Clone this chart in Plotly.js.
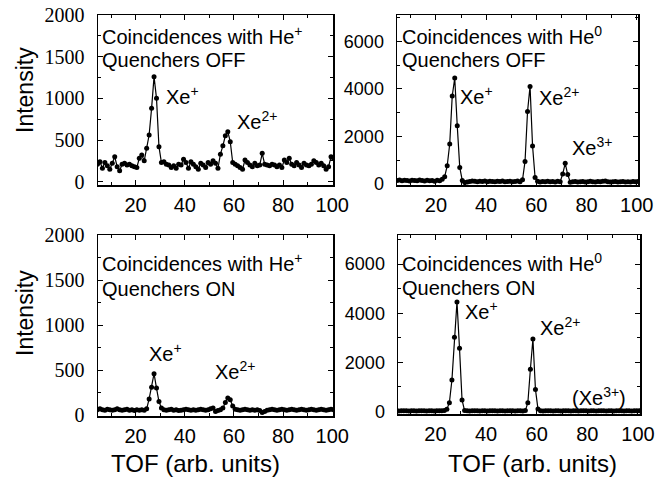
<!DOCTYPE html>
<html>
<head>
<meta charset="utf-8">
<script src="https://cdn.plot.ly/plotly-3.0.1.min.js"></script>
<style>
html,body{margin:0;padding:0;background:#fff;}
#chart{width:670px;height:487px;}
</style>
</head>
<body>
<div id="chart"></div>
<script>
// TOF channel positions (arb. units)
const tof = [4.5,5.5,6.5,7.5,8.5,9.5,10.5,11.5,12.5,13.5,14.5,15.5,16.5,17.5,18.5,19.5,20.5,21.5,22.5,23.5,
  24.5,25.5,26.5,27.5,28.5,29.5,30.5,31.5,32.5,33.5,34.5,35.5,36.5,37.5,38.5,39.5,40.5,41.5,42.5,43.5,
  44.5,45.5,46.5,47.5,48.5,49.5,50.5,51.5,52.5,53.5,54.5,55.5,56.5,57.5,58.5,59.5,60.5,61.5,62.5,63.5,
  64.5,65.5,66.5,67.5,68.5,69.5,70.5,71.5,72.5,73.5,74.5,75.5,76.5,77.5,78.5,79.5,80.5,81.5,82.5,83.5,
  84.5,85.5,86.5,87.5,88.5,89.5,90.5,91.5,92.5,93.5,94.5,95.5,96.5,97.5,98.5,99.5,100.5];

// Coincidences with He+, quenchers OFF
const heIonOff = [210,240,160,230,190,150,220,300,180,130,210,220,200,210,190,180,170,280,320,250,
  400,560,880,1260,1000,420,230,240,210,200,170,190,160,210,200,270,230,160,240,210,
  180,150,220,200,170,230,210,250,220,160,330,430,550,600,480,230,210,190,170,150,
  260,230,200,180,220,190,200,340,210,200,190,210,200,180,200,170,260,230,280,210,
  190,230,200,170,220,200,190,210,250,230,200,220,190,150,180,300,280];

// Coincidences with He0, quenchers OFF
const heNeuOff = [150,170,140,160,150,130,160,150,140,170,150,130,160,140,150,120,160,140,200,310,
  770,1680,3700,4450,2450,700,150,60,90,110,130,120,100,120,110,130,100,120,110,100,
  120,110,130,100,110,120,100,110,130,100,180,950,3050,4100,1600,280,120,90,110,100,
  120,100,110,90,120,100,420,870,400,80,100,110,90,100,110,90,100,120,100,90,
  110,100,120,130,100,90,100,110,90,100,110,90,100,90,110,100,110];

// Coincidences with He+, quenchers ON
const heIonOn = [60,70,60,55,65,60,55,60,70,60,55,60,65,55,60,50,60,55,60,55,
  70,180,310,460,300,150,80,60,55,60,65,55,60,50,55,60,65,60,55,60,
  55,60,65,60,55,60,70,80,40,50,60,80,140,190,170,100,65,60,55,60,
  65,60,55,60,55,60,50,30,40,55,60,65,60,55,60,65,60,55,60,65,
  60,55,60,65,60,55,60,65,60,55,60,65,60,55,60,65,60];

// Coincidences with He0, quenchers ON
const heNeuOn = [30,25,30,35,30,25,30,30,25,30,35,30,25,30,30,25,30,35,30,40,
  90,360,1280,3020,4460,2570,470,40,30,25,30,35,30,25,30,30,25,30,35,30,
  25,30,30,25,30,35,30,25,30,30,25,40,360,1720,2950,900,100,30,25,30,
  35,30,25,30,30,25,30,35,30,25,30,30,25,30,35,30,25,30,30,25,
  30,35,30,25,30,30,25,30,35,30,25,30,30,25,30,35,30];

const xTicks = [20,40,60,80,100];
const yTicksLeft = [0,500,1000,1500,2000];
const yTicksRight = [0,2000,4000,6000];

const W = 670, H = 487;
const px = v => v / W;
const py = v => 1 - v / H;

function tr(y, xa, ya) {
  return {x: tof, y: y, xaxis: xa, yaxis: ya, type: 'scatter', mode: 'lines+markers',
    line: {color: '#000', width: 1.2}, marker: {color: '#000', size: 5}, cliponaxis: true,
    hoverinfo: 'skip'};
}

const data = [
  tr(heIonOff, 'x', 'y'),
  tr(heNeuOff, 'x2', 'y2'),
  tr(heIonOn, 'x3', 'y3'),
  tr(heNeuOn, 'x4', 'y4')
];

const sans = 'Liberation Sans';
const serif = 'Liberation Serif';

function xax(d, range, anchor) {
  return {domain: d, range: range, anchor: anchor, showline: true, mirror: 'allticks',
    linecolor: '#000', linewidth: 1.5, ticks: 'inside', ticklen: 5, tickcolor: '#000', tickwidth: 1,
    tickvals: xTicks, ticktext: xTicks.map(String), showgrid: false, zeroline: false,
    minor: {dtick: 10, tick0: 0, ticks: 'inside', ticklen: 3, tickcolor: '#000', showgrid: false},
    tickfont: {family: sans, size: 20, color: '#000'}, ticklabelstandoff: 1, fixedrange: true};
}
function yax(d, range, anchor, vals, font, size, minorStep) {
  return {domain: d, range: range, anchor: anchor, showline: true, mirror: 'allticks',
    linecolor: '#000', linewidth: 1.5, ticks: 'inside', ticklen: 5, tickcolor: '#000', tickwidth: 1,
    tickvals: vals, ticktext: vals.map(String), showgrid: false, zeroline: false,
    minor: {dtick: minorStep, tick0: 0, ticks: 'inside', ticklen: 3, tickcolor: '#000', showgrid: false},
    tickfont: {family: font, size: size, color: '#000'}, ticklabelstandoff: 8, fixedrange: true};
}

function ann(text, x, y, size, anchor) {
  return {text: text, xref: 'paper', yref: 'paper', x: px(x), y: py(y), xanchor: anchor || 'left',
    yanchor: 'middle', showarrow: false, font: {family: sans, size: size, color: '#000'}};
}

const layout = {
  width: W, height: H, margin: {l: 0, r: 0, t: 0, b: 0}, showlegend: false,
  paper_bgcolor: '#fff', plot_bgcolor: '#fff',
  font: {family: sans, color: '#000'},
  xaxis: xax([px(98), px(333)], [4.7, 100.3], 'y'),
  yaxis: yax([py(185), py(15)], [-40, 2000], 'x', yTicksLeft, serif, 20, 250),
  xaxis2: xax([px(397), px(638)], [4.5, 100.5], 'y2'),
  yaxis2: yax([py(185), py(15)], [-40, 7100], 'x2', yTicksRight, sans, 18, 1000),
  xaxis3: xax([px(98), px(333)], [4.7, 100.3], 'y3'),
  yaxis3: yax([py(416), py(235)], [-10, 2000], 'x3', yTicksLeft, serif, 20, 250),
  xaxis4: xax([px(398), px(640)], [5.2, 100.8], 'y4'),
  yaxis4: yax([py(414), py(235)], [-100, 7180], 'x4', yTicksRight, sans, 18, 1000),
  annotations: [
    ann('Coincidences with He<sup>+</sup>', 100, 35, 20),
    ann('Quenchers OFF', 100, 60, 20),
    ann('Xe<sup>+</sup>', 164, 95, 20),
    ann('Xe<sup>2+</sup>', 235, 121, 20),
    ann('Coincidences with He<sup>0</sup>', 400, 35, 20),
    ann('Quenchers OFF', 400, 60, 20),
    ann('Xe<sup>+</sup>', 458, 95, 20),
    ann('Xe<sup>2+</sup>', 537, 96, 20),
    ann('Xe<sup>3+</sup>', 570, 146, 20),
    ann('Coincidences with He<sup>+</sup>', 100, 262, 20),
    ann('Quenchers ON', 100, 289, 20),
    ann('Xe<sup>+</sup>', 147, 352, 20),
    ann('Xe<sup>2+</sup>', 213, 370, 20),
    ann('Coincidences with He<sup>0</sup>', 400, 262, 20),
    ann('Quenchers ON', 400, 288, 20),
    ann('Xe<sup>+</sup>', 463, 310, 20),
    ann('Xe<sup>2+</sup>', 538, 326, 20),
    ann('(Xe<sup>3+</sup>)', 570, 396, 20),
    {text: 'Intensity', xref: 'paper', yref: 'paper', x: px(25), y: py(90), xanchor: 'center', yanchor: 'middle',
      textangle: -90, showarrow: false, font: {family: sans, size: 23, color: '#000'}},
    {text: 'Intensity', xref: 'paper', yref: 'paper', x: px(25), y: py(313), xanchor: 'center', yanchor: 'middle',
      textangle: -90, showarrow: false, font: {family: sans, size: 23, color: '#000'}},
    ann('TOF (arb. units)', 195, 463, 24, 'center'),
    ann('TOF (arb. units)', 532, 463, 24, 'center')
  ]
};

Plotly.newPlot('chart', data, layout, {staticPlot: true, displayModeBar: false});
</script>
</body>
</html>
